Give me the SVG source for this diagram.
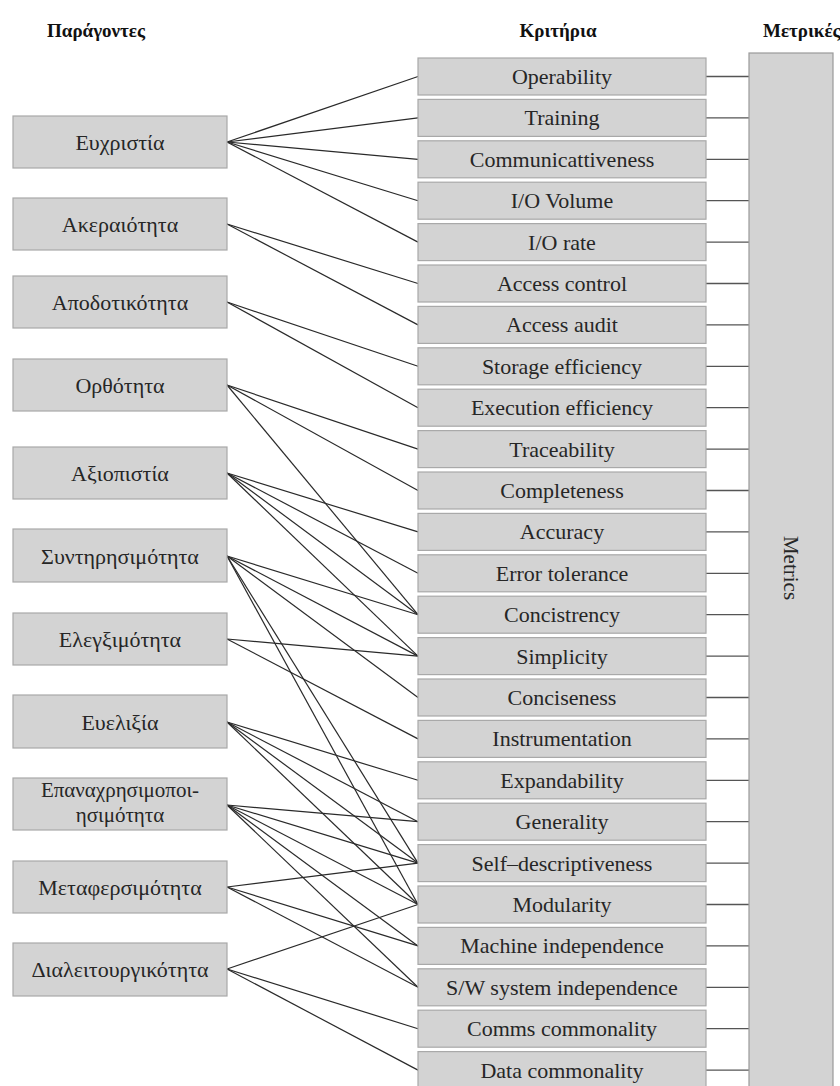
<svg xmlns="http://www.w3.org/2000/svg" width="840" height="1086" viewBox="0 0 840 1086">
<style>
.bg{fill:#ffffff}
.box{fill:#d3d3d3;stroke:#a9a9a9;stroke-width:1.2}
.mbox{fill:#d3d3d3;stroke:#9a9a9a;stroke-width:1.2}
.t{font-family:"Liberation Serif","Times New Roman",serif;font-size:22px;fill:#262626;text-anchor:middle}
.t2{font-family:"Liberation Serif","Times New Roman",serif;font-size:21px;fill:#262626;text-anchor:middle}
.tm{font-family:"Liberation Serif","Times New Roman",serif;font-size:22px;fill:#262626;text-anchor:middle}
.tr{font-family:"Liberation Serif","Times New Roman",serif;font-size:21px;fill:#262626;text-anchor:middle}
.h{font-family:"Liberation Serif","Times New Roman",serif;font-size:19px;font-weight:bold;fill:#111}
.c{stroke:#2a2a2a;stroke-width:1.2;fill:none}
.m{stroke:#555;stroke-width:1.3;fill:none}
</style>
<rect class="bg" x="0" y="0" width="840" height="1086"/>

<g id="headers">
<text class="h" x="96" y="37" text-anchor="middle">Παράγοντες</text>
<text class="h" x="558" y="37" text-anchor="middle">Κριτήρια</text>
<text class="h" x="763" y="37">Μετρικές</text>
</g>

<g id="connectors">
<line class="c" x1="227" y1="142" x2="418" y2="76.5"/>
<line class="c" x1="227" y1="142" x2="418" y2="117.9"/>
<line class="c" x1="227" y1="142" x2="418" y2="159.3"/>
<line class="c" x1="227" y1="142" x2="418" y2="200.7"/>
<line class="c" x1="227" y1="142" x2="418" y2="242.1"/>
<line class="c" x1="227" y1="224" x2="418" y2="283.5"/>
<line class="c" x1="227" y1="224" x2="418" y2="324.9"/>
<line class="c" x1="227" y1="302" x2="418" y2="366.3"/>
<line class="c" x1="227" y1="302" x2="418" y2="407.7"/>
<line class="c" x1="227" y1="385" x2="418" y2="449.1"/>
<line class="c" x1="227" y1="385" x2="418" y2="490.5"/>
<line class="c" x1="227" y1="385" x2="418" y2="614.7"/>
<line class="c" x1="227" y1="473" x2="418" y2="531.9"/>
<line class="c" x1="227" y1="473" x2="418" y2="573.3"/>
<line class="c" x1="227" y1="473" x2="418" y2="614.7"/>
<line class="c" x1="227" y1="473" x2="418" y2="656.1"/>
<line class="c" x1="227" y1="556" x2="418" y2="614.7"/>
<line class="c" x1="227" y1="556" x2="418" y2="656.1"/>
<line class="c" x1="227" y1="556" x2="418" y2="697.5"/>
<line class="c" x1="227" y1="556" x2="418" y2="863.1"/>
<line class="c" x1="227" y1="556" x2="418" y2="904.5"/>
<line class="c" x1="227" y1="639" x2="418" y2="656.1"/>
<line class="c" x1="227" y1="639" x2="418" y2="738.9"/>
<line class="c" x1="227" y1="722" x2="418" y2="780.3"/>
<line class="c" x1="227" y1="722" x2="418" y2="821.7"/>
<line class="c" x1="227" y1="722" x2="418" y2="863.1"/>
<line class="c" x1="227" y1="722" x2="418" y2="904.5"/>
<line class="c" x1="227" y1="805" x2="418" y2="821.7"/>
<line class="c" x1="227" y1="805" x2="418" y2="863.1"/>
<line class="c" x1="227" y1="805" x2="418" y2="904.5"/>
<line class="c" x1="227" y1="805" x2="418" y2="945.9"/>
<line class="c" x1="227" y1="805" x2="418" y2="987.3"/>
<line class="c" x1="227" y1="887" x2="418" y2="863.1"/>
<line class="c" x1="227" y1="887" x2="418" y2="945.9"/>
<line class="c" x1="227" y1="887" x2="418" y2="987.3"/>
<line class="c" x1="227" y1="969" x2="418" y2="904.5"/>
<line class="c" x1="227" y1="969" x2="418" y2="1028.7"/>
<line class="c" x1="227" y1="969" x2="418" y2="1070.1"/>
<path class="m" d="M706 76.5H749M706 117.9H749M706 159.3H749M706 200.7H749M706 242.1H749M706 283.5H749M706 324.9H749M706 366.3H749M706 407.7H749M706 449.1H749M706 490.5H749M706 531.9H749M706 573.3H749M706 614.7H749M706 656.1H749M706 697.5H749M706 738.9H749M706 780.3H749M706 821.7H749M706 863.1H749M706 904.5H749M706 945.9H749M706 987.3H749M706 1028.7H749M706 1070.1H749"/>
</g>

<g id="f-usability"><rect class="box" x="13" y="116" width="214" height="52"/><text class="t" x="120" y="150">Ευχριστία</text></g>
<g id="f-integrity"><rect class="box" x="13" y="198" width="214" height="52"/><text class="t" x="120" y="232">Ακεραιότητα</text></g>
<g id="f-efficiency"><rect class="box" x="13" y="276" width="214" height="52"/><text class="t" x="120" y="310">Αποδοτικότητα</text></g>
<g id="f-correctness"><rect class="box" x="13" y="359" width="214" height="52"/><text class="t" x="120" y="393">Ορθότητα</text></g>
<g id="f-reliability"><rect class="box" x="13" y="447" width="214" height="52"/><text class="t" x="120" y="481">Αξιοπιστία</text></g>
<g id="f-maintainability"><rect class="box" x="13" y="529" width="214" height="53"/><text class="t" x="120" y="564">Συντηρησιμότητα</text></g>
<g id="f-testability"><rect class="box" x="13" y="613" width="214" height="52"/><text class="t" x="120" y="647">Ελεγξιμότητα</text></g>
<g id="f-flexibility"><rect class="box" x="13" y="695" width="214" height="53"/><text class="t" x="120" y="730">Ευελιξία</text></g>
<g id="f-reusability"><rect class="box" x="13" y="778" width="214" height="52"/><text class="t2" x="120" y="797">Επαναχρησιμοποι-</text><text class="t2" x="120" y="822">ησιμότητα</text></g>
<g id="f-portability"><rect class="box" x="13" y="861" width="214" height="52"/><text class="t" x="120" y="895">Μεταφερσιμότητα</text></g>
<g id="f-interoperability"><rect class="box" x="13" y="943" width="214" height="53"/><text class="t" x="120" y="977">Διαλειτουργικότητα</text></g>

<g id="c-operability"><rect class="box" x="418" y="58" width="288" height="37"/><text class="tm" x="562" y="84">Operability</text></g>
<g id="c-training"><rect class="box" x="418" y="99.4" width="288" height="37"/><text class="tm" x="562" y="125.4">Training</text></g>
<g id="c-communicativeness"><rect class="box" x="418" y="140.8" width="288" height="37"/><text class="tm" x="562" y="166.8">Communicattiveness</text></g>
<g id="c-io-volume"><rect class="box" x="418" y="182.2" width="288" height="37"/><text class="tm" x="562" y="208.2">I/O Volume</text></g>
<g id="c-io-rate"><rect class="box" x="418" y="223.6" width="288" height="37"/><text class="tm" x="562" y="249.6">I/O rate</text></g>
<g id="c-access-control"><rect class="box" x="418" y="265" width="288" height="37"/><text class="tm" x="562" y="291">Access control</text></g>
<g id="c-access-audit"><rect class="box" x="418" y="306.4" width="288" height="37"/><text class="tm" x="562" y="332.4">Access audit</text></g>
<g id="c-storage"><rect class="box" x="418" y="347.8" width="288" height="37"/><text class="tm" x="562" y="373.8">Storage efficiency</text></g>
<g id="c-execution"><rect class="box" x="418" y="389.2" width="288" height="37"/><text class="tm" x="562" y="415.2">Execution efficiency</text></g>
<g id="c-traceability"><rect class="box" x="418" y="430.6" width="288" height="37"/><text class="tm" x="562" y="456.6">Traceability</text></g>
<g id="c-completeness"><rect class="box" x="418" y="472" width="288" height="37"/><text class="tm" x="562" y="498">Completeness</text></g>
<g id="c-accuracy"><rect class="box" x="418" y="513.4" width="288" height="37"/><text class="tm" x="562" y="539.4">Accuracy</text></g>
<g id="c-error-tolerance"><rect class="box" x="418" y="554.8" width="288" height="37"/><text class="tm" x="562" y="580.8">Error tolerance</text></g>
<g id="c-consistency"><rect class="box" x="418" y="596.2" width="288" height="37"/><text class="tm" x="562" y="622.2">Concistrency</text></g>
<g id="c-simplicity"><rect class="box" x="418" y="637.6" width="288" height="37"/><text class="tm" x="562" y="663.6">Simplicity</text></g>
<g id="c-conciseness"><rect class="box" x="418" y="679" width="288" height="37"/><text class="tm" x="562" y="705">Conciseness</text></g>
<g id="c-instrumentation"><rect class="box" x="418" y="720.4" width="288" height="37"/><text class="tm" x="562" y="746.4">Instrumentation</text></g>
<g id="c-expandability"><rect class="box" x="418" y="761.8" width="288" height="37"/><text class="tm" x="562" y="787.8">Expandability</text></g>
<g id="c-generality"><rect class="box" x="418" y="803.2" width="288" height="37"/><text class="tm" x="562" y="829.2">Generality</text></g>
<g id="c-self-descriptiveness"><rect class="box" x="418" y="844.6" width="288" height="37"/><text class="tm" x="562" y="870.6">Self–descriptiveness</text></g>
<g id="c-modularity"><rect class="box" x="418" y="886" width="288" height="37"/><text class="tm" x="562" y="912">Modularity</text></g>
<g id="c-machine-independence"><rect class="box" x="418" y="927.4" width="288" height="37"/><text class="tm" x="562" y="953.4">Machine independence</text></g>
<g id="c-sw-independence"><rect class="box" x="418" y="968.8" width="288" height="37"/><text class="tm" x="562" y="994.8">S/W system independence</text></g>
<g id="c-comms"><rect class="box" x="418" y="1010.2" width="288" height="37"/><text class="tm" x="562" y="1036.2">Comms commonality</text></g>
<g id="c-data"><rect class="box" x="418" y="1051.6" width="288" height="37"/><text class="tm" x="562" y="1077.6">Data commonality</text></g>

<g id="metrics"><rect class="mbox" x="749" y="53" width="84" height="1040"/><text class="tr" transform="translate(791,568) rotate(90)" x="0" y="7">Metrics</text></g>
</svg>
